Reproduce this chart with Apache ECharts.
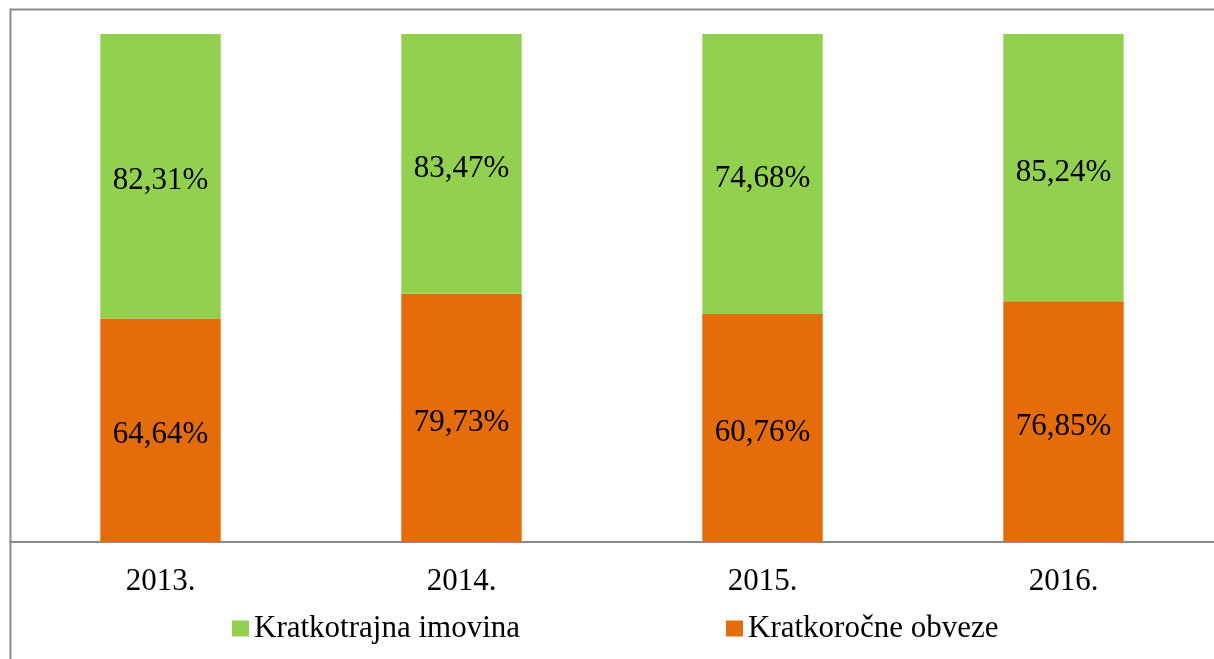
<!DOCTYPE html>
<html><head><meta charset="utf-8">
<script src="https://cdn.jsdelivr.net/npm/echarts@6/dist/echarts.min.js"></script>
<style>html,body{margin:0;padding:0;background:#fff}#c{width:1214px;height:659px}</style>
</head><body><div id="c"></div>
<script>
const categories = ['2013.', '2014.', '2015.', '2016.'];
const imovina = [82.31, 83.47, 74.68, 85.24];   // Kratkotrajna imovina
const obveze = [64.64, 79.73, 60.76, 76.85];    // Kratkoročne obveze
const seriesNames = ['Kratkotrajna imovina', 'Kratkoročne obveze'];

const totals = categories.map((c, i) => imovina[i] + obveze[i]);
const fmt = v => v.toFixed(2).replace('.', ',') + '%';
const mk = arr => arr.map((v, i) => ({ value: v / totals[i] * 100, raw: v }));

const font = 'Liberation Serif';
const chart = echarts.init(document.getElementById('c'));
chart.setOption({
  animation: false,
  graphic: [{
    type: 'rect', left: 8, top: 7, silent: true,
    shape: { width: 1220, height: 670 },
    style: { fill: 'none', stroke: '#8a8a8a', lineWidth: 2 }
  }],
  grid: { left: 10, right: -4, top: 34, bottom: 117, containLabel: false },
  legend: {
    left: 227, top: 608, itemWidth: 17, itemHeight: 16, itemGap: 206,
    icon: 'rect',
    data: seriesNames,
    textStyle: { fontFamily: font, fontSize: 31, color: '#000' }
  },
  xAxis: {
    type: 'category', data: categories,
    axisLine: { lineStyle: { color: '#8a8a8a', width: 2 } },
    axisTick: { show: false },
    axisLabel: { fontFamily: font, fontSize: 31, color: '#000', margin: 24 }
  },
  yAxis: { type: 'value', min: 0, max: 100, show: false, splitLine: { show: false } },
  series: [
    {
      name: seriesNames[1], type: 'bar', stack: 's', barWidth: '40%',
      data: mk(obveze), itemStyle: { color: '#E46C0A' },
      label: { show: true, position: 'inside', offset: [0, 5], fontFamily: font, fontSize: 31, color: '#000',
        formatter: p => fmt(p.data.raw) }
    },
    {
      name: seriesNames[0], type: 'bar', stack: 's', barWidth: '40%',
      data: mk(imovina), itemStyle: { color: '#92D050' },
      label: { show: true, position: 'inside', offset: [0, 5], fontFamily: font, fontSize: 31, color: '#000',
        formatter: p => fmt(p.data.raw) }
    }
  ]
});
</script></body></html>
